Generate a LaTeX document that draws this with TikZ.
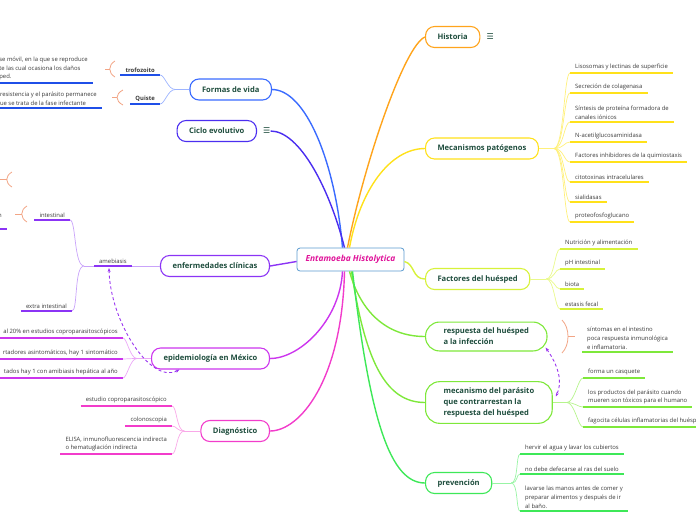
\documentclass[tikz,border=0pt]{standalone}
\usepackage{fontspec}
\setmainfont{Open Sans}
\newfontfamily\symfont{DejaVu Sans}
\usetikzlibrary{positioning,calc,arrows.meta}

\definecolor{cHist}{HTML}{FFA41C}
\definecolor{cMec}{HTML}{FFE11A}
\definecolor{cMecLight}{HTML}{FFF07A}
\definecolor{cFac}{HTML}{D7F23A}
\definecolor{cFacLight}{HTML}{E9F98A}
\definecolor{cResp}{HTML}{7EE83A}
\definecolor{cRespLight}{HTML}{B6F48C}
\definecolor{cPrev}{HTML}{3EE858}
\definecolor{cPrevLight}{HTML}{98F4A4}
\definecolor{cForm}{HTML}{3A6BFF}
\definecolor{cFormDark}{HTML}{1F4FE8}
\definecolor{cFormLight}{HTML}{9DB4FF}
\definecolor{cCiclo}{HTML}{4B2EF0}
\definecolor{cEnf}{HTML}{8B34F5}
\definecolor{cEnfLight}{HTML}{C9A3FA}
\definecolor{cEpi}{HTML}{CC35EE}
\definecolor{cEpiLight}{HTML}{EBA8F7}
\definecolor{cDiag}{HTML}{F23CCB}
\definecolor{cDiagLight}{HTML}{F9A8E8}
\definecolor{topictext}{HTML}{1E4D3D}
\definecolor{leaftext}{HTML}{3A3A3A}
\definecolor{centerborder}{HTML}{5B9BD0}
\definecolor{centertext}{HTML}{E0139A}
\definecolor{sumcolor}{HTML}{F2A585}
\definecolor{relcolor}{HTML}{9A35F0}

\tikzset{
  centerbox/.style={draw=centerborder, line width=0.8pt, rounded corners=3pt, fill=white,
    font=\bfseries\itshape\fontsize{8.4}{10}\selectfont, text=centertext,
    minimum width=107pt, minimum height=23pt, inner sep=0pt},
  topicbox/.style={draw=#1, line width=1.1pt, rounded corners=9pt, fill=white,
    font=\bfseries\fontsize{7.6}{11}\selectfont, text=topictext,
    inner xsep=12pt, minimum height=21pt, align=left},
  topicboxbig/.style={topicbox=#1, rounded corners=14pt, inner xsep=18pt, inner ysep=6pt},
  leafbox/.style={font=\fontsize{5.9}{8.8}\selectfont, text=leaftext,
    inner xsep=5pt, inner ysep=2.5pt, align=left},
  iconfont/.style={font=\symfont\fontsize{8}{8}\selectfont, text=topictext, inner sep=0pt},
  branch/.style={draw=#1, line width=1.4pt},
  fanline/.style={draw=#1, line width=0.7pt},
  underline/.style={draw=#1, line width=1.3pt},
  sumbracket/.style={draw=sumcolor, line width=0.8pt},
  relarrow/.style={draw=relcolor, line width=0.9pt, dash pattern=on 3pt off 2.5pt,
    {Stealth[length=4pt]}-{Stealth[length=4pt]}},
}

\begin{document}
\begin{tikzpicture}[x=1pt, y=-1pt]
  \useasboundingbox (0,0) rectangle (696,520);
  \clip (0,0) rectangle (696,520);

  % central topic
  \node[centerbox] (ent) at (350.5,259.5) {Entamoeba Histolytica};

  % right side topics
  \node[topicbox=cHist, anchor=west] (hist) at (425,37) {Historia};
  \node[iconfont, right=6pt of hist] (histicon) {☰};
  \node[topicbox=cMec, anchor=west] (mec) at (425,148.5) {Mecanismos patógenos};
  \node[topicbox=cFac, anchor=west] (fac) at (425,279) {Factores del huésped};
  \node[topicboxbig=cResp, anchor=west] (resp) at (425,336.5) {respuesta del huésped\\a la infección};
  \node[topicboxbig=cResp, anchor=west] (mpar) at (425,402.5) {mecanismo del parásito\\que contrarrestan la\\respuesta del huésped};
  \node[topicbox=cPrev, anchor=west] (prev) at (425,483) {prevención};

  % left side topics
  \node[topicbox=cForm, anchor=east] (formas) at (272,89.5) {Formas de vida};
  \node[topicbox=cCiclo, anchor=east] (ciclo) at (257,131) {Ciclo evolutivo};
  \node[iconfont, right=6pt of ciclo] (cicloicon) {☰};
  \node[topicbox=cEnf, anchor=east] (enf) at (270,266) {enfermedades clínicas};
  \node[topicbox=cEpi, anchor=east] (epi) at (270,358.5) {epidemiología en México};
  \node[topicbox=cDiag, anchor=east] (diag) at (270,431) {Diagnóstico};

  % main branches
  \draw[branch=cHist] ([xshift=-3pt]ent.north) .. controls (365,160) and (405,45) .. (hist.west);
  \draw[branch=cMec] ([xshift=-1pt]ent.north) .. controls (360,190) and (390,148.5) .. (mec.west);
  \draw[branch=cFac] ([yshift=-2pt]ent.east) .. controls (415,264) and (412,279) .. (fac.west);
  \draw[branch=cResp] ([xshift=-1pt]ent.south) .. controls (360,310) and (385,336.5) .. (resp.west);
  \draw[branch=cResp] ([xshift=1pt]ent.south) .. controls (365,360) and (385,402.5) .. (mpar.west);
  \draw[branch=cPrev] ([xshift=2pt]ent.south) .. controls (370,420) and (390,483) .. (prev.west);
  \draw[branch=cForm] ([xshift=-8pt]ent.north) .. controls (335,160) and (305,89.5) .. (formas.east);
  \draw[branch=cCiclo] ([xshift=-6pt]ent.north) .. controls (330,190) and (300,131) .. (cicloicon.east);
  \draw[branch=cEnf] ([yshift=-2pt]ent.west) -- (enf.east);
  \draw[branch=cEpi] ([xshift=-8pt]ent.south) .. controls (340,320) and (300,358.5) .. (epi.east);
  \draw[branch=cDiag] ([xshift=-6pt]ent.south) .. controls (342,380) and (300,431) .. (diag.east);

  % Mecanismos patogenos
  \coordinate[right=15pt of mec] (mechub);
  \node[leafbox, anchor=south west] (m1) at (570,73) {Lisosomas y lectinas de superficie};
  \node[leafbox, anchor=south west] (m2) at (570,93) {Secreción de colagenasa};
  \node[leafbox, anchor=south west] (m3) at (570,122) {Síntesis de proteína formadora de\\canales iónicos};
  \node[leafbox, anchor=south west] (m4) at (570,142) {N-acetilglucosaminidasa};
  \node[leafbox, anchor=south west] (m5) at (570,162) {Factores inhibidores de la quimiostaxis};
  \node[leafbox, anchor=south west] (m6) at (570,182) {citotoxinas intracelulares};
  \node[leafbox, anchor=south west] (m7) at (570,202) {sialidasas};
  \node[leafbox, anchor=south west] (m8) at (570,222) {proteofosfoglucano};
  \draw[fanline=cMecLight] (mec.east) -- (mechub);
  \foreach \n in {m1,m2,m3,m4,m5,m6,m7,m8} {
    \draw[fanline=cMecLight] (mechub) .. controls +(10,0) and +(-6,0) .. (\n.south west);
    \draw[underline=cMec] (\n.south west) -- (\n.south east);
  }

  % Factores del huesped
  \coordinate[right=16pt of fac] (fachub);
  \node[leafbox, anchor=south west] (f1) at (560,249) {Nutrición y alimentación};
  \node[leafbox, anchor=south west] (f2) at (560,269) {pH intestinal};
  \node[leafbox, anchor=south west] (f3) at (560,289) {biota};
  \node[leafbox, anchor=south west] (f4) at (560,309) {estasis fecal};
  \draw[fanline=cFacLight] (fac.east) -- (fachub);
  \foreach \n in {f1,f2,f3,f4} {
    \draw[fanline=cFacLight] (fachub) .. controls +(8,0) and +(-5,0) .. (\n.south west);
    \draw[underline=cFac] (\n.south west) -- (\n.south east);
  }

  % respuesta: summary
  \draw[sumbracket] (562,320) .. controls (570,328) and (570,345) .. (562,353);
  \draw[sumbracket] (568,336.5) -- (575,336.5);
  \node[leafbox, anchor=south west] (rsum) at (582,352) {síntomas en el intestino\\poca respuesta inmunológica\\e inflamatoria.};
  \draw[underline=cResp] (rsum.south west) -- (rsum.south east);

  % mecanismo del parasito
  \coordinate[right=14pt of mpar] (parhub);
  \node[leafbox, anchor=south west] (p1) at (583,378) {forma un casquete};
  \node[leafbox, anchor=south west] (p2) at (583,407) {los productos del parásito cuando\\mueren son tóxicos para el humano};
  \node[leafbox, anchor=south west] (p3) at (583,427) {fagocita células inflamatorias del huésped};
  \draw[fanline=cRespLight] (mpar.east) -- (parhub);
  \foreach \n in {p1,p2,p3} {
    \draw[fanline=cRespLight] (parhub) .. controls +(8,0) and +(-5,0) .. (\n.south west);
    \draw[underline=cResp] (\n.south west) -- (\n.south east);
  }
  \draw[relarrow] ($(resp.south east)+(-2,-4)$) .. controls (558,365) and (563,382) .. ($(mpar.east)+(3,-6)$);

  % prevencion
  \coordinate[right=19pt of prev] (prevhub);
  \node[leafbox, anchor=south west] (v1) at (520,454) {hervir el agua y lavar los cubiertos};
  \node[leafbox, anchor=south west] (v2) at (520,474) {no debe defecarse al ras del suelo};
  \node[leafbox, anchor=south west] (v3) at (520,511) {lavarse las manos antes de comer y\\preparar alimentos y después de ir\\al baño.};
  \draw[fanline=cPrevLight] (prev.east) -- (prevhub);
  \foreach \n in {v1,v2,v3} {
    \draw[fanline=cPrevLight] (prevhub) .. controls +(7,0) and +(-4,0) .. (\n.south west);
    \draw[underline=cPrev] (\n.south west) -- (\n.south east);
  }

  % Formas de vida
  \coordinate[left=14pt of formas] (formhub);
  \node[leafbox, font=\bfseries\fontsize{5.9}{8.8}\selectfont, anchor=south east] (trof) at (160,75) {trofozoito};
  \node[leafbox, font=\bfseries\fontsize{5.9}{8.8}\selectfont, anchor=south east] (quis) at (160,104) {Quiste};
  \draw[fanline=cFormLight] (formas.west) -- (formhub);
  \foreach \n in {trof,quis} {
    \draw[fanline=cFormLight] (formhub) .. controls +(-8,0) and +(5,0) .. (\n.south east);
    \draw[underline=cFormDark] (\n.south west) -- (\n.south east);
  }
  \draw[sumbracket] (115,61) .. controls (108,65) and (108,73) .. (115,77);
  \draw[sumbracket] (109.7,69) -- (105,69);
  \node[leafbox, anchor=south east] (trofsum) at (93,83) {se móvil, en la que se reproduce\\te las cual ocasiona los daños\\ped.};
  \draw[sumbracket] (123,90) .. controls (115,94) and (115,101) .. (123,105);
  \draw[sumbracket] (117,97.5) -- (112,97.5);
  \node[leafbox, anchor=south east] (quisum) at (102,108) {resistencia y el parásito permanece\\ue se trata de la fase infectante};
  \foreach \n in {trofsum,quisum}
    \draw[underline=cFormDark] (\n.south west) -- (\n.south east);

  % enfermedades clinicas
  \node[leafbox, anchor=south east] (ame) at (132,266) {amebiasis};
  \coordinate[left=10pt of ame.south west] (amehub);
  \node[leafbox, anchor=south east] (int) at (70,220) {intestinal};
  \node[leafbox, anchor=south east] (ext) at (72,311) {extra intestinal};
  \draw[fanline=cEnfLight] (enf.west) -- (ame.south east);
  \draw[fanline=cEnfLight] (ame.south west) -- (amehub);
  \foreach \n in {int,ext}
    \draw[fanline=cEnfLight] (amehub) .. controls +(-10,0) and +(6,0) .. (\n.south east);
  \foreach \n in {ame,int,ext}
    \draw[underline=cEnf] (\n.south west) -- (\n.south east);
  \draw[sumbracket] (27,206) .. controls (20,210) and (20,218) .. (27,222);
  \draw[sumbracket] (21.7,214) -- (15,214);
  \node[leafbox, align=right, anchor=south east] (intsum) at (7,229) {n\\\phantom{x}};
  \draw[underline=cEnf] (intsum.south west) -- (intsum.south east);
  \draw[sumbracket] (12,172) .. controls (5,176) and (5,183) .. (12,187);
  \draw[sumbracket] (6.7,179.5) -- (0,179.5);

  % epidemiologia en Mexico
  \coordinate[left=14pt of epi] (epihub);
  \node[leafbox, anchor=south east] (e1) at (123,338) {al 20\% en estudios coproparasitoscópicos};
  \node[leafbox, anchor=south east] (e2) at (123,359) {rtadores asintomáticos, hay 1 sintomático};
  \node[leafbox, anchor=south east] (e3) at (123,378) {tados hay 1 con amibiasis hepática al año};
  \draw[fanline=cEpiLight] (epi.west) -- (epihub);
  \foreach \n in {e1,e2,e3} {
    \draw[fanline=cEpiLight] (epihub) .. controls +(-7,0) and +(4,0) .. (\n.south east);
    \draw[underline=cEpi] (\n.south west) -- (\n.south east);
  }
  \draw[relarrow] ($(epi.south)+(-31,0)$) .. controls (150,385) and (110,320) .. ($(ame.south)+(-4,2)$);

  % Diagnostico
  \coordinate[left=16pt of diag] (diaghub);
  \node[leafbox, anchor=south east] (d1) at (172,406) {estudio coproparasitoscópico};
  \node[leafbox, anchor=south east] (d2) at (172,426) {colonoscopia};
  \node[leafbox, anchor=south east] (d3) at (172,454) {ELISA, inmunofluorescencia indirecta\\o hematuglación indirecta};
  \draw[fanline=cDiagLight] (diag.west) -- (diaghub);
  \foreach \n in {d1,d2,d3} {
    \draw[fanline=cDiagLight] (diaghub) .. controls +(-8,0) and +(5,0) .. (\n.south east);
    \draw[underline=cDiag] (\n.south west) -- (\n.south east);
  }
\end{tikzpicture}
\end{document}
